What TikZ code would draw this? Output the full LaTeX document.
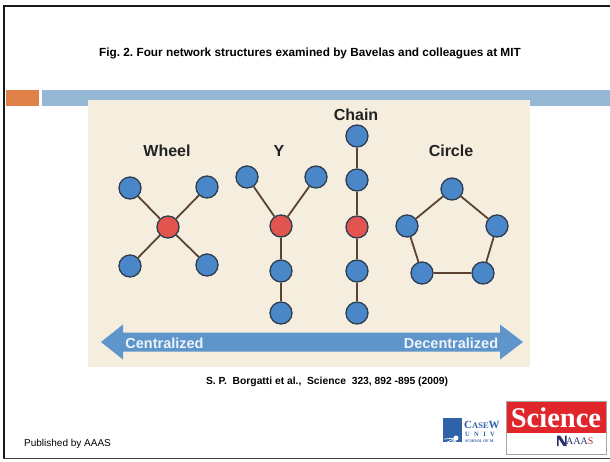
\documentclass[tikz,border=0pt]{standalone}
\usepackage{fontspec}
\setmainfont{Liberation Sans}
\newfontfamily\sciserif{Liberation Serif}
\definecolor{orangebar}{HTML}{E0814A}
\definecolor{bluebar}{HTML}{96B7D4}
\definecolor{panel}{HTML}{F5EEDF}
\definecolor{nodeblue}{HTML}{4A87C9}
\definecolor{nodered}{HTML}{E2554F}
\definecolor{nodeline}{HTML}{2E3D4E}
\definecolor{edgec}{HTML}{5B4332}
\definecolor{arrowc}{HTML}{5E96CB}
\definecolor{arrowtxt}{HTML}{EEF3FA}
\definecolor{labtxt}{HTML}{222222}
\definecolor{scired}{HTML}{E0262B}
\definecolor{cwblue}{HTML}{2F62A6}
\definecolor{aaasnavy}{HTML}{2A2F6B}
\tikzset{
  bnode/.style={circle, fill=nodeblue, draw=nodeline, line width=1.3pt, minimum size=22pt, inner sep=0pt},
  rnode/.style={bnode, fill=nodered},
  link/.style={draw=edgec, line width=1.8pt},
  netlabel/.style={font=\bfseries\fontsize{16}{18}\selectfont, text=labtxt, inner sep=0pt},
  arrowlabel/.style={font=\bfseries\fontsize{14.5}{16}\selectfont, text=arrowtxt, inner sep=0pt},
}
\begin{document}
\frenchspacing
\begin{tikzpicture}[x=1pt,y=-1pt]
\useasboundingbox (0,0) rectangle (610,461);
\fill[white] (0,0) rectangle (610,461);
% frame
\draw[line width=2.4pt, black!90] (611,6) -- (4,6) -- (4,458.5);
\draw[line width=1.6pt, black!75] (3,458.5) -- (611,458.5);
% title
\node[font=\bfseries\fontsize{11.8}{14}\selectfont, inner sep=0pt] (title) at (310,53) {Fig. 2. Four network structures examined by Bavelas and colleagues at MIT};
% bars
\fill[orangebar] (6,90) rectangle (39,106);
\fill[bluebar] (42,90) rectangle (610,106);
% panel
\fill[panel] (88,100) rectangle (530,367);
% labels
\node[netlabel] (lwheel) at (167,151) {Wheel};
\node[netlabel] (ly) at (279,151) {Y};
\node[netlabel] (lchain) at (356,115) {Chain};
\node[netlabel] (lcircle) at (451,151) {Circle};
% wheel
\node[bnode] (w1) at (130,188) {};
\node[bnode] (w2) at (207,187) {};
\node[rnode] (wc) at (168,227) {};
\node[bnode] (w3) at (130,266) {};
\node[bnode] (w4) at (207,265) {};
\draw[link] (wc) -- (w1);
\draw[link] (wc) -- (w2);
\draw[link] (wc) -- (w3);
\draw[link] (wc) -- (w4);
% Y
\node[bnode] (y1) at (247,177) {};
\node[bnode] (y2) at (316,177) {};
\node[rnode] (yc) at (281,226) {};
\node[bnode] (y3) at (281,271) {};
\node[bnode] (y4) at (281,313) {};
\draw[link] (yc) -- (y1);
\draw[link] (yc) -- (y2);
\draw[link] (yc) -- (y3);
\draw[link] (y3) -- (y4);
% chain
\node[bnode] (c1) at (357,136) {};
\node[bnode] (c2) at (357,180) {};
\node[rnode] (c3) at (357,227) {};
\node[bnode] (c4) at (357,271) {};
\node[bnode] (c5) at (357,313) {};
\draw[link] (c1) -- (c2);
\draw[link] (c2) -- (c3);
\draw[link] (c3) -- (c4);
\draw[link] (c4) -- (c5);
% circle
\node[bnode] (p1) at (452,189) {};
\node[bnode] (p2) at (497,226) {};
\node[bnode] (p3) at (483,273) {};
\node[bnode] (p4) at (422,273) {};
\node[bnode] (p5) at (407,226) {};
\draw[link] (p1) -- (p2);
\draw[link] (p2) -- (p3);
\draw[link] (p3) -- (p4);
\draw[link] (p4) -- (p5);
\draw[link] (p5) -- (p1);
% double arrow
\fill[arrowc] (101,342) -- (123,324.5) -- (123,332.5) -- (500,332.5) -- (500,324.5) -- (523,342) -- (500,359.5) -- (500,351.5) -- (123,351.5) -- (123,359.5) -- cycle;
\node[arrowlabel] (lcent) at (164.5,343.5) {Centralized};
\node[arrowlabel] (ldec) at (451,343.5) {Decentralized};
% citation
\node[font=\bfseries\fontsize{10.3}{12}\selectfont, inner sep=0pt] (cite) at (327,382) {S. P.\ \ Borgatti et al.,\ \ Science\ \ 323, 892 -895 (2009)};
% footer
\node[font=\fontsize{10}{12}\selectfont, anchor=west, inner sep=0pt] (pub) at (24,443.5) {Published by AAAS};
% Case Western logo (partly hidden)
\fill[cwblue] (443,418) rectangle (462,442);
\foreach \a in {95,115,135,155,175} {\draw[white, line width=0.7pt] (456,438) -- ++(\a:12);}
\fill[white] (456,438) circle (2.5pt);
\node[font=\sciserif\bfseries\fontsize{11}{12}\selectfont, text=cwblue, anchor=west, inner sep=0pt] (cw1) at (464,425) {C\fontsize{8.5}{9}\selectfont ASE\fontsize{11}{12}\selectfont W};
\node[font=\sciserif\bfseries\fontsize{6.5}{7}\selectfont, text=cwblue, anchor=west, inner sep=0pt] (cw2) at (465,434.5) {U\,\,\,\,N\,\,\,\,I\,\,\,\,V};
\node[font=\sciserif\bfseries\fontsize{4}{4.5}\selectfont, text=cwblue, anchor=west, inner sep=0pt] (cw3) at (465,441.5) {SCHOOL OF M};
% Science logo
\fill[white] (506,401) rectangle (606,454);
\fill[scired] (506,401) rectangle (606,433);
\draw[black!35, line width=0.6pt] (506,401) rectangle (606,454);
\node[font=\sciserif\bfseries\fontsize{28.5}{30}\selectfont, text=white, inner sep=0pt] (sci) at (556,417.5) {Science};
\fill[aaasnavy] (557,435.5) -- (560,435.5) -- (565,443) -- (565,435.5) -- (566.5,435.5) -- (566.5,446) -- (563.5,446) -- (558.5,438.5) -- (558.5,446) -- (557,446) -- cycle;
\node[font=\sciserif\fontsize{10}{11}\selectfont, anchor=west, inner sep=0pt] (aaas) at (566,441) {\textcolor{aaasnavy}{AAA}\textcolor{scired!80!aaasnavy}{S}};
\end{tikzpicture}
\end{document}
